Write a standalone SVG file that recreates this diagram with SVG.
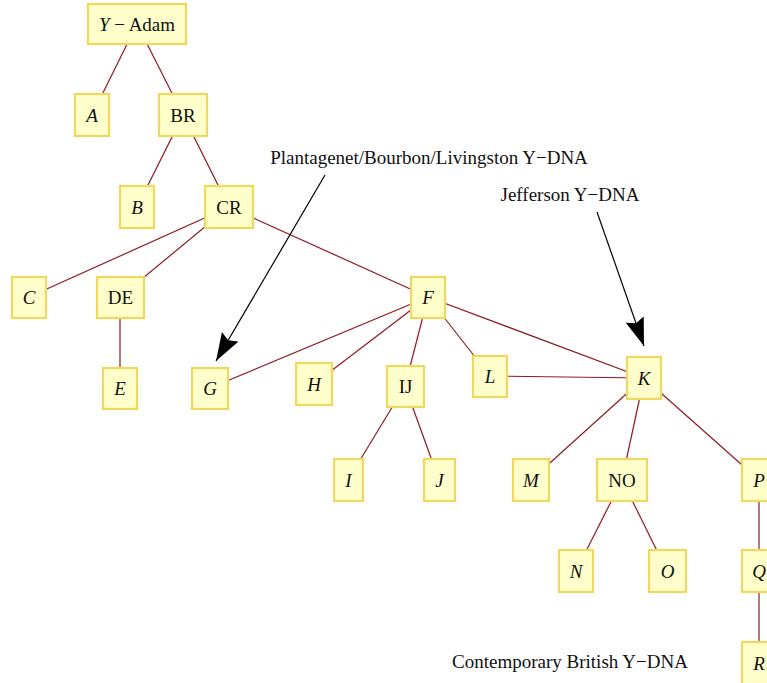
<svg xmlns="http://www.w3.org/2000/svg" width="767" height="683" viewBox="0 0 767 683">
<style>
.n rect{fill:#ffffcc;stroke:#f0d860;stroke-width:2.2}
.n text{font-family:"Liberation Serif","Times New Roman",serif;font-size:19px;fill:#111;text-anchor:middle}
.i{font-style:italic}
.e line{stroke:#8e1b1f;stroke-width:1.2}
.lab{font-family:"Liberation Serif","Times New Roman",serif;font-size:19px;fill:#111;text-anchor:middle}
.ar{stroke:#000;stroke-width:1.2;fill:none}
</style>
<defs>
<marker id="ah" markerUnits="userSpaceOnUse" markerWidth="30" markerHeight="22" refX="28" refY="10" orient="auto" viewBox="0 0 30 22">
<path d="M28,10 L0,0.5 L4,10 L0,19.5 Z" fill="#000"/>
</marker>
</defs>
<rect width="767" height="683" fill="#fff"/>
<g id="connectors" class="e">
<line x1="137" y1="24" x2="92" y2="115"/>
<line x1="137" y1="24" x2="183" y2="115"/>
<line x1="183" y1="115" x2="137" y2="207"/>
<line x1="183" y1="115" x2="229" y2="207"/>
<line x1="229" y1="207" x2="29" y2="297"/>
<line x1="229" y1="207" x2="120" y2="297"/>
<line x1="229" y1="207" x2="428" y2="297"/>
<line x1="120" y1="297" x2="120" y2="388"/>
<line x1="428" y1="297" x2="210" y2="388"/>
<line x1="428" y1="297" x2="314" y2="384"/>
<line x1="428" y1="297" x2="405" y2="386"/>
<line x1="428" y1="297" x2="490" y2="376"/>
<line x1="428" y1="297" x2="644" y2="378"/>
<line x1="405" y1="386" x2="348" y2="480"/>
<line x1="405" y1="386" x2="439" y2="480"/>
<line x1="490" y1="376" x2="644" y2="378"/>
<line x1="644" y1="378" x2="531" y2="480"/>
<line x1="644" y1="378" x2="622" y2="480"/>
<line x1="644" y1="378" x2="759" y2="480"/>
<line x1="622" y1="480" x2="576" y2="571"/>
<line x1="622" y1="480" x2="667" y2="571"/>
<line x1="759" y1="480" x2="759" y2="571"/>
<line x1="759" y1="571" x2="759" y2="663"/>
</g>
<g id="annotations">
<text class="lab" x="429" y="164">Plantagenet/Bourbon/Livingston Y−DNA</text>
<line class="ar" x1="325" y1="175" x2="216" y2="361" marker-end="url(#ah)"/>
<text class="lab" x="570" y="201">Jefferson Y−DNA</text>
<line class="ar" x1="597" y1="212" x2="644" y2="346" marker-end="url(#ah)"/>
<text class="lab" x="570" y="668">Contemporary British Y−DNA</text>
</g>
<g id="YAdam" class="n"><rect x="88" y="4" width="98" height="40"/><text x="137" y="30.5"><tspan class="i">Y</tspan> − Adam</text></g>
<g id="A" class="n"><rect x="75" y="94" width="34" height="42"/><text class="i" x="92" y="121.5">A</text></g>
<g id="BR" class="n"><rect x="159" y="94" width="48" height="42"/><text x="183" y="121.5">BR</text></g>
<g id="B" class="n"><rect x="120" y="186" width="34" height="42"/><text class="i" x="137" y="213.5">B</text></g>
<g id="CR" class="n"><rect x="205" y="186" width="48" height="42"/><text x="229" y="213.5">CR</text></g>
<g id="C" class="n"><rect x="12" y="277" width="34" height="41"/><text class="i" x="29" y="304">C</text></g>
<g id="DE" class="n"><rect x="97" y="277" width="47" height="41"/><text x="120.5" y="304">DE</text></g>
<g id="E" class="n"><rect x="103" y="368" width="34" height="41"/><text class="i" x="120" y="395">E</text></g>
<g id="G" class="n"><rect x="192" y="368" width="36" height="41"/><text class="i" x="210" y="395">G</text></g>
<g id="F" class="n"><rect x="411" y="277" width="34" height="41"/><text class="i" x="428" y="304">F</text></g>
<g id="H" class="n"><rect x="296" y="363" width="36" height="42"/><text class="i" x="314" y="390.5">H</text></g>
<g id="IJ" class="n"><rect x="387" y="366" width="37" height="41"/><text x="405.5" y="393">IJ</text></g>
<g id="L" class="n"><rect x="473" y="356" width="34" height="41"/><text class="i" x="490" y="383">L</text></g>
<g id="K" class="n"><rect x="627" y="357" width="34" height="42"/><text class="i" x="644" y="384.5">K</text></g>
<g id="I" class="n"><rect x="334" y="459" width="29" height="42"/><text class="i" x="348.5" y="486.5">I</text></g>
<g id="J" class="n"><rect x="424" y="459" width="31" height="42"/><text class="i" x="439.5" y="486.5">J</text></g>
<g id="M" class="n"><rect x="513" y="459" width="36" height="42"/><text class="i" x="531" y="486.5">M</text></g>
<g id="NO" class="n"><rect x="597" y="459" width="50" height="42"/><text x="622" y="486.5">NO</text></g>
<g id="P" class="n"><rect x="742" y="459" width="34" height="42"/><text class="i" x="759" y="486.5">P</text></g>
<g id="N" class="n"><rect x="559" y="550" width="34" height="42"/><text class="i" x="576" y="577.5">N</text></g>
<g id="O" class="n"><rect x="649" y="550" width="37" height="42"/><text class="i" x="667.5" y="577.5">O</text></g>
<g id="Q" class="n"><rect x="742" y="550" width="34" height="42"/><text class="i" x="759" y="577.5">Q</text></g>
<g id="R" class="n"><rect x="742" y="642" width="34" height="42"/><text class="i" x="759" y="669.5">R</text></g>
</svg>
